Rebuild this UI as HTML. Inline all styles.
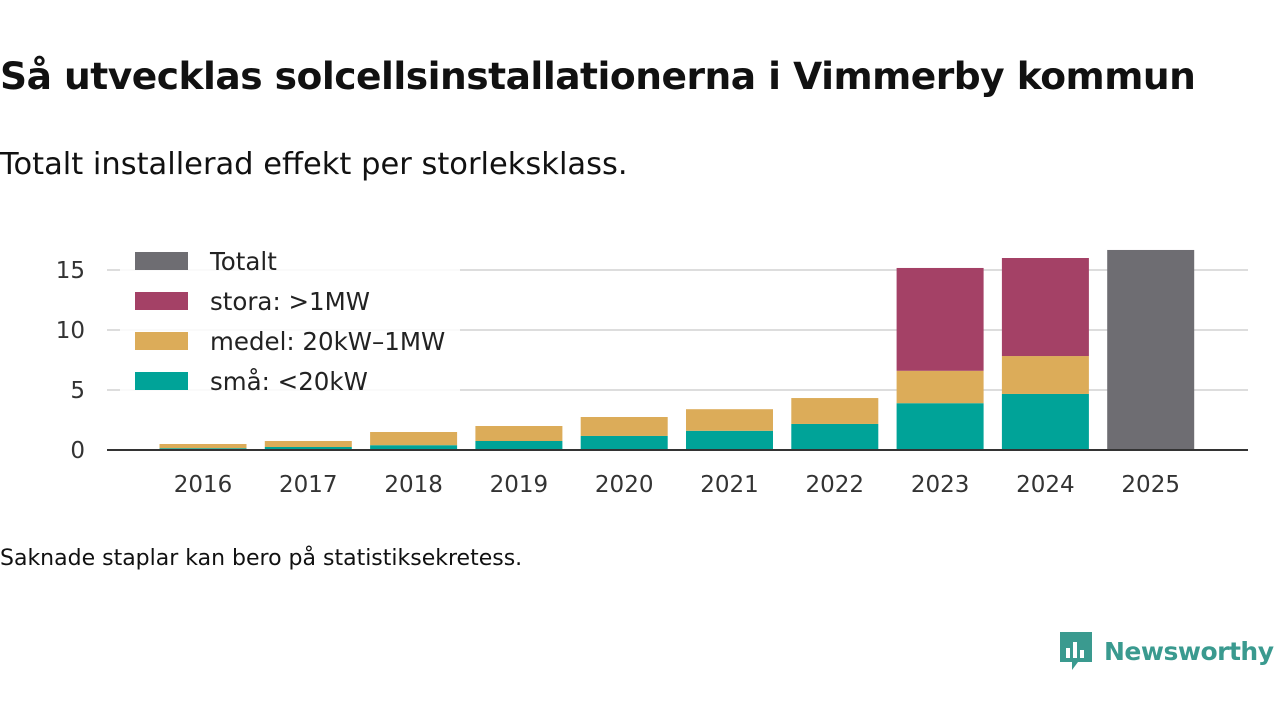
<!DOCTYPE html>
<html><head><meta charset="utf-8">
<style>
body{margin:0;width:1280px;height:720px;background:#fff;font-family:"Liberation Sans","DejaVu Sans",sans-serif;color:#111;overflow:hidden;position:relative}
h1{position:absolute;left:0;top:54px;margin:0;font-size:37.6px;font-weight:bold;font-family:"DejaVu Sans","Liberation Sans",sans-serif;letter-spacing:-0.5px}
.sub{position:absolute;left:0;top:147px;font-size:30.5px;font-family:"DejaVu Sans",sans-serif;font-weight:normal}
.note{position:absolute;left:0;top:546px;font-size:22px;font-family:"DejaVu Sans",sans-serif}
.logo{position:absolute;left:1058px;top:630px;display:flex;align-items:center;color:#3a9a8f;font-size:25px;font-weight:bold;font-family:"DejaVu Sans",sans-serif;white-space:nowrap}
</style></head><body>
<h1>Så utvecklas solcellsinstallationerna i Vimmerby kommun</h1>
<div class="sub">Totalt installerad effekt per storleksklass.</div>
<svg id="chart" width="1280" height="720" style="position:absolute;left:0;top:0"></svg>
<div class="note">Saknade staplar kan bero på statistiksekretess.</div>
<div class="logo">
<svg width="36" height="42" viewBox="0 0 36 42"><path d="M2 2h32v30H20l-6 8v-8H2z" fill="#3a9a8f"/><rect x="8" y="18" width="4" height="10" fill="#fff"/><rect x="15" y="12" width="4" height="16" fill="#fff"/><rect x="22" y="20" width="4" height="8" fill="#fff"/></svg>
<span style="margin-left:10px;letter-spacing:-0.5px">Newsworthy</span></div>
<script>
const years=["2016","2017","2018","2019","2020","2021","2022","2023","2024","2025"];
const sma=[0.15,0.25,0.4,0.75,1.17,1.6,2.17,3.9,4.67,null];
const medel=[0.35,0.5,1.1,1.25,1.58,1.8,2.16,2.7,3.16,null];
const stora=[0,0,0,0,0,0,0,8.57,8.17,null];
const totalt=[null,null,null,null,null,null,null,null,null,16.67];
const yTicks=[0,5,10,15];
const NS="http://www.w3.org/2000/svg";
const svg=document.getElementById('chart');
const y0=450,pxPer=12,x0=203,step=105.3,bw=87;
const Y=v=>y0-v*pxPer, X=i=>x0+i*step;
function el(t,a){const e=document.createElementNS(NS,t);for(const k in a)e.setAttribute(k,a[k]);svg.appendChild(e);return e;}
yTicks.forEach(t=>{
 if(t>0){const g=el('line',{x1:107,x2:1248,y1:Y(t),y2:Y(t),stroke:'#ddd','stroke-width':2});
 
 }
 const tx=el('text',{x:85,y:Y(t)+8,'text-anchor':'end','font-size':23,fill:'#333','font-family':'DejaVu Sans,sans-serif'});tx.textContent=t;
 
 
});
const cols={sma:'#00a398',medel:'#dcac59',stora:'#a44166',tot:'#6e6d72'};
years.forEach((yr,i)=>{
 let base=0;
 [[sma,cols.sma,'sma'],[medel,cols.medel,'medel'],[stora,cols.stora,'stora'],[totalt,cols.tot,'totalt']].forEach(([arr,c,n])=>{
  const v=arr[i];if(!v)return;
  const r=el('rect',{x:X(i)-bw/2,y:Y(base+v),width:bw,height:v*pxPer,fill:c});
  
  
  base+=v;
 });
 const tx=el('text',{x:X(i),y:492,'text-anchor':'middle','font-size':23,fill:'#333','font-family':'DejaVu Sans,sans-serif'});tx.textContent=yr;
 
 
});
const ax=el('line',{x1:107,x2:1248,y1:y0,y2:y0,stroke:'#333','stroke-width':2});


const bg=el('rect',{x:120,y:240,width:340,height:160,fill:'#fff','fill-opacity':0.85});


[['Totalt',cols.tot],['stora: >1MW',cols.stora],['medel: 20kW–1MW',cols.medel],['små: <20kW',cols.sma]].forEach(([l,c],k)=>{
 const yy=252+k*40;
 const r=el('rect',{x:135,y:yy,width:53,height:18,fill:c});
 
 
 const t=el('text',{x:210,y:yy+18,'font-size':24.5,fill:'#222','font-family':'DejaVu Sans,sans-serif'});t.textContent=l;
 
 
});
</script>
</body></html>
